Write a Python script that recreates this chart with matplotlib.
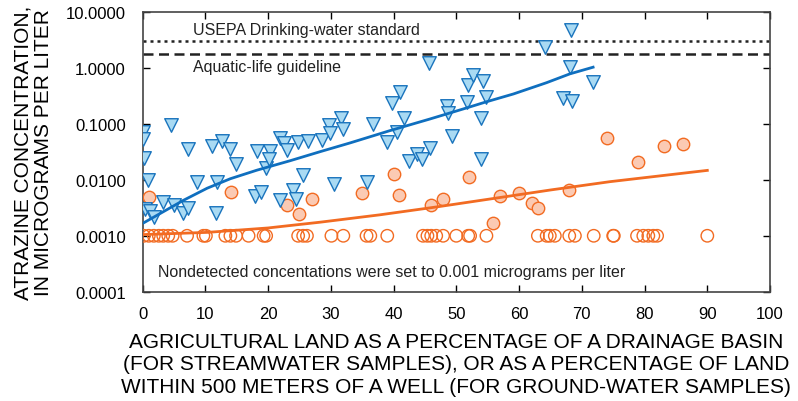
import numpy as np
import matplotlib
matplotlib.use("Agg")
import matplotlib.pyplot as plt
from matplotlib.ticker import FixedLocator, FuncFormatter

# Streamwater samples (triangles): agricultural land %, concentration (ug/L)
stream_x = [0, 0, 0.2, 0.8, 0.4, 1.2, 1.8, 3.3, 5.0, 4.6, 6.5, 7.3, 7.3, 8.7,
            11.0, 11.7, 11.9, 12.6, 14.0, 14.9, 18.2, 18.0, 18.8, 19.7, 20.3,
            20.1, 21.9, 22.6, 23.0, 21.9, 24.0, 24.5, 24.8, 25.5, 26.4, 28.6,
            29.7, 29.8, 30.5, 31.6, 32.0, 36.8, 35.7, 39.7, 41.0, 40.5, 41.7,
            39.0, 42.4, 43.7, 44.6, 45.8, 45.6, 48.5, 48.7, 49.3, 51.7, 51.8,
            52.6, 54.3, 54.8, 53.9, 53.9, 64.1, 68.2, 68.1, 71.8, 67.0, 68.4]
stream_y = [0.071, 0.055, 0.025, 0.0098, 0.003, 0.0028, 0.0022, 0.004, 0.0035,
            0.095, 0.0026, 0.0032, 0.035, 0.009, 0.04, 0.0026, 0.0093, 0.05,
            0.035, 0.019, 0.033, 0.0052, 0.006, 0.016, 0.033, 0.024, 0.057,
            0.045, 0.034, 0.0044, 0.0065, 0.0046, 0.047, 0.012, 0.05, 0.052,
            0.096, 0.07, 0.0085, 0.13, 0.083, 0.1, 0.0093, 0.24, 0.37, 0.071,
            0.13, 0.047, 0.022, 0.029, 0.024, 0.038, 1.24, 0.21, 0.16, 0.061,
            0.25, 0.5, 0.76, 0.6, 0.31, 0.13, 0.024, 2.36, 4.9, 1.03, 0.57,
            0.29, 0.26]

# Ground-water samples with detections (filled circles)
well_x = [1.1, 14.1, 23.0, 25.0, 27.0, 34.9, 40.1, 40.9, 45.9, 47.9, 52.0,
          55.9, 57.0, 60.0, 62.1, 63.0, 68.0, 74.0, 79.0, 83.1, 86.1]
well_y = [0.0049, 0.0062, 0.0036, 0.0025, 0.0046, 0.0059, 0.013, 0.0054,
          0.0036, 0.0046, 0.0115, 0.0017, 0.0052, 0.0059, 0.0039, 0.0032,
          0.0065, 0.057, 0.021, 0.041, 0.044]

# Ground-water nondetections, plotted at 0.001 ug/L (open circles)
nd_x = [0.2, 1.0, 1.8, 2.6, 3.3, 4.1, 4.8, 7.1, 9.7, 10.1, 13.2, 14.0, 14.9,
        16.9, 19.3, 19.7, 24.8, 25.6, 26.2, 30.1, 32.0, 35.7, 36.3, 39.0,
        44.7, 45.4, 46.0, 46.8, 47.9, 50.0, 51.9, 52.2, 54.8, 63.0, 64.4,
        64.9, 65.7, 68.0, 68.9, 71.9, 75.0, 75.1, 78.8, 79.8, 80.6, 81.4,
        82.0, 90.0]
nd_level = 0.001

# Smoothed trend curves
stream_fit_x = [0, 2.8, 6.5, 10.3, 14.0, 18.2, 23.5, 28.3, 33.1, 39.4, 45.8,
                51.1, 54.8, 59.1, 64.4, 68.1, 71.8]
stream_fit_y = [0.00166, 0.0025, 0.0043, 0.0071, 0.0105, 0.0149, 0.022, 0.032,
                0.046, 0.076, 0.123, 0.186, 0.25, 0.345, 0.55, 0.79, 1.04]
well_fit_x = [0, 10.3, 20.0, 28.3, 37.8, 47.0, 56.2, 65.0, 74.5, 90.0]
well_fit_y = [0.00105, 0.00115, 0.00138, 0.00175, 0.00237, 0.0033, 0.0047,
              0.0066, 0.0093, 0.0148]

usepa_standard = 3.0
aquatic_guideline = 1.8

blue_edge = "#1a74bd"
blue_fill = "#a9daf3"
orange_edge = "#f26b22"
orange_fill = "#fbcab3"

fig = plt.figure(figsize=(7.98, 4.02), dpi=100)
ax = fig.add_axes([0.1786, 0.272, 0.7864, 0.695])
ax.set_yscale("log")

# reference lines
ax.axhline(usepa_standard, color="#222222", linestyle=(0, (1.2, 1.6)), linewidth=1.8)
ax.axhline(aquatic_guideline, color="#222222", linestyle=(0, (4, 2.2)), linewidth=1.8)

# data points
ax.scatter(nd_x, [nd_level] * len(nd_x), s=80, facecolors="none",
           edgecolors=orange_edge, linewidths=1.0, zorder=3)
ax.scatter(well_x, well_y, s=80, facecolors=orange_fill,
           edgecolors=orange_edge, linewidths=1.0, zorder=3)
ax.scatter(stream_x, stream_y, s=95, marker="v", facecolors=blue_fill,
           edgecolors=blue_edge, linewidths=1.0, zorder=4)

# trend lines
ax.plot(stream_fit_x, stream_fit_y, color="#0f6fbf", linewidth=2.0, zorder=5)
ax.plot(well_fit_x, well_fit_y, color="#f26b22", linewidth=2.0, zorder=5)

txt_font = ["Liberation Sans", "DejaVu Sans"]
ax.text(8.0, 3.55, "USEPA Drinking-water standard", fontsize=11.5,
        family=txt_font, color="#222222", va="bottom")
ax.text(8.0, 1.45, "Aquatic-life guideline", fontsize=11.5,
        family=txt_font, color="#222222", va="top")
ax.text(2.4, 0.000225, "Nondetected concentations were set to 0.001 micrograms per liter",
        fontsize=11.5, family=txt_font, color="#222222", va="center")

# axes
ax.set_xlim(0, 100)
ax.set_ylim(0.0001, 10)
ax.xaxis.set_major_locator(FixedLocator(np.arange(0, 101, 10)))
ax.yaxis.set_major_locator(FixedLocator([0.0001, 0.001, 0.01, 0.1, 1, 10]))
ax.yaxis.set_minor_locator(FixedLocator([]))
ax.yaxis.set_major_formatter(FuncFormatter(lambda v, p: "%.4f" % v))
ax.tick_params(direction="in", top=True, right=True, length=5, width=1,
               labelsize=12)
ax.tick_params(axis="x", pad=10)
ax.tick_params(axis="y", pad=12)
for lab in ax.get_xticklabels() + ax.get_yticklabels():
    lab.set_family(txt_font)
for sp in ax.spines.values():
    sp.set_linewidth(1.2)
    sp.set_color("#444444")

lab_font = ["Liberation Sans", "DejaVu Sans"]
ax.set_xlabel("AGRICULTURAL LAND AS A PERCENTAGE OF A DRAINAGE BASIN\n"
              "(FOR STREAMWATER SAMPLES), OR AS A PERCENTAGE OF LAND\n"
              "WITHIN 500 METERS OF A WELL (FOR GROUND-WATER SAMPLES)",
              fontsize=15, family=lab_font, linespacing=1.25, labelpad=8)
ax.set_ylabel("ATRAZINE CONCENTRATION,\nIN MICROGRAMS PER LITER",
              fontsize=15, family=lab_font, linespacing=1.15, labelpad=9)

fig.savefig("out.png", dpi=100)
